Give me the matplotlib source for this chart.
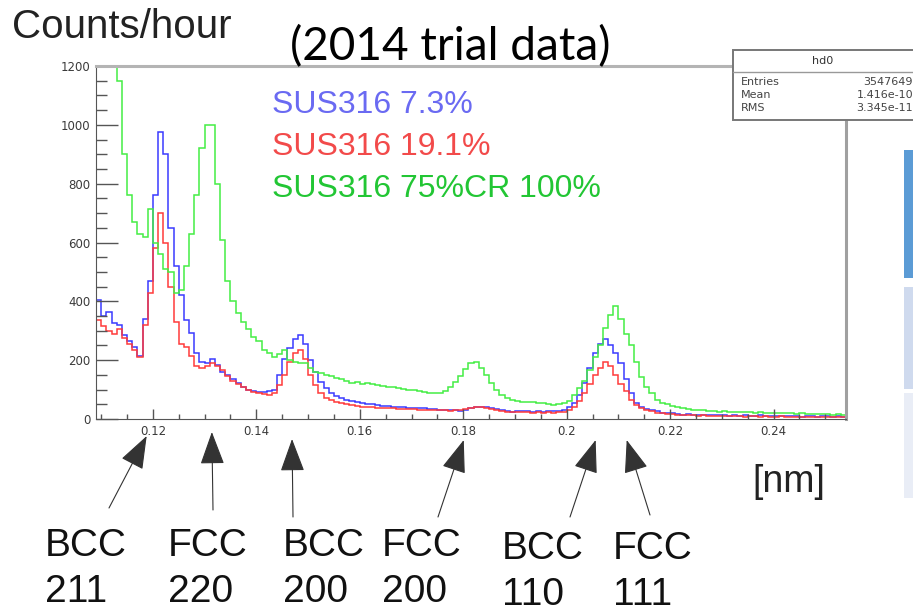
import matplotlib.pyplot as plt
import numpy as np
from matplotlib.patches import Rectangle
from matplotlib.ticker import MultipleLocator, FuncFormatter

W, H = 913, 614

# histogram binning in d-spacing [nm]
bin_lo = 0.109
bin_w = 0.001
n_bins = 145

sus_7 = [405, 350, 365, 325, 318, 285, 265, 245, 215, 340,
         470, 760, 975, 900, 650, 520, 420, 337, 292, 225,
         195, 192, 205, 185, 160, 150, 135, 122, 110, 100,
         96, 92, 92, 95, 100, 150, 205, 240, 272, 285,
         255, 200, 160, 125, 105, 88, 78, 70, 65, 60,
         57, 54, 52, 50, 48, 45, 43, 42, 40, 42,
         38, 37, 36, 37, 35, 33, 31, 30, 32, 30,
         28, 32, 36, 40, 42, 40, 38, 35, 30, 28,
         25, 27, 26, 28, 25, 27, 24, 26, 28, 27,
         30, 40, 55, 80, 122, 175, 225, 255, 272, 250,
         225, 190, 135, 90, 55, 42, 35, 31, 26, 22,
         20, 20, 18, 15, 16, 14, 13, 15, 12, 14,
         12, 13, 11, 12, 10, 12, 11, 10, 12, 10,
         11, 9, 10, 11, 9, 10, 8, 10, 9, 8,
         10, 9, 8, 9, 8]

sus_19 = [335, 315, 300, 290, 305, 275, 255, 235, 210, 320,
          430, 580, 700, 600, 450, 330, 255, 245, 215, 180,
          175, 180, 192, 180, 165, 145, 130, 120, 108, 100,
          92, 88, 85, 82, 90, 115, 150, 195, 225, 235,
          205, 150, 115, 88, 72, 63, 58, 54, 50, 47,
          44, 42, 41, 40, 39, 38, 36, 36, 35, 34,
          33, 34, 32, 31, 30, 30, 29, 30, 28, 29,
          30, 33, 38, 40, 41, 38, 35, 30, 27, 25,
          24, 25, 23, 24, 22, 23, 22, 23, 22, 24,
          25, 30, 42, 60, 88, 120, 150, 175, 195, 180,
          150, 120, 95, 65, 48, 38, 32, 27, 22, 20,
          18, 16, 14, 15, 12, 13, 11, 12, 10, 11,
          9, 10, 11, 9, 10, 8, 9, 10, 8, 9,
          7, 8, 9, 7, 8, 7, 8, 6, 7, 8,
          6, 7, 6, 7, 6]

sus_cr = [1200, 1200, 1200, 1200, 1150, 900, 760, 670, 630, 620,
          715, 600, 560, 510, 500, 430, 440, 520, 630, 760,
          920, 1000, 1000, 800, 610, 470, 400, 360, 330, 305,
          280, 265, 235, 225, 212, 220, 235, 200, 195, 190,
          190, 175, 160, 155, 150, 145, 140, 135, 130, 122,
          125, 120, 122, 118, 115, 112, 110, 108, 105, 103,
          100, 98, 95, 92, 90, 88, 88, 95, 110, 125,
          145, 170, 190, 195, 175, 150, 122, 100, 80, 72,
          65, 60, 58, 57, 58, 56, 55, 52, 48, 50,
          55, 62, 80, 105, 130, 165, 210, 250, 310, 355,
          385, 340, 290, 250, 195, 144, 110, 88, 65, 55,
          50, 45, 41, 38, 34, 32, 30, 29, 26, 27,
          25, 26, 24, 25, 23, 24, 25, 22, 23, 21,
          22, 20, 21, 19, 20, 18, 19, 17, 18, 17,
          16, 17, 15, 16, 15]

series_names = ["SUS316 7.3%", "SUS316 19.1%", "SUS316 75%CR 100%"]
line_colors = ["#3a3aff", "#ff3a3a", "#44ee44"]
text_colors = ["#6a6af2", "#f24a4a", "#22c634"]

# reflections marked under the axis
peak_d = [0.1188, 0.1314, 0.1469, 0.1801, 0.2056, 0.2116]
peak_phase = ["BCC", "FCC", "BCC", "FCC", "BCC", "FCC"]
peak_hkl = ["211", "220", "200", "200", "110", "111"]

stats_rows = [("Entries", "3547649"), ("Mean", "1.416e-10"), ("RMS", "3.345e-11")]

edges = np.linspace(bin_lo, bin_lo + n_bins * bin_w, n_bins + 1)

fig = plt.figure(figsize=(W / 100, H / 100), dpi=100)
fig.patch.set_facecolor("white")


def fx(px):
    return px / W


def fy(py):
    return 1 - py / H


ax = fig.add_axes([fx(96), fy(419), fx(846) - fx(96), fy(66) - fy(419)])
for vals, c in zip([sus_7, sus_19, sus_cr], line_colors):
    ax.stairs(vals, edges, baseline=None, color=c, lw=1.1, clip_on=False)

ax.set_xlim(edges[0], edges[-1])
ax.set_ylim(0, 1200)
ax.xaxis.set_major_locator(MultipleLocator(0.02))
ax.xaxis.set_minor_locator(MultipleLocator(0.005))
ax.yaxis.set_major_locator(MultipleLocator(200))
ax.yaxis.set_minor_locator(MultipleLocator(50))
ax.xaxis.set_major_formatter(FuncFormatter(lambda v, p: "%g" % round(v, 3)))
ax.yaxis.set_major_formatter(FuncFormatter(lambda v, p: "%d" % v))
ax.tick_params(axis="both", which="both", direction="in", color="#555555",
               labelcolor="#3a3a3a", labelsize=8.5, width=1)
ax.tick_params(axis="y", which="major", length=16, pad=4)
ax.tick_params(axis="y", which="minor", length=8)
ax.tick_params(axis="x", which="major", length=7, pad=4)
ax.tick_params(axis="x", which="minor", length=3.5)
ax.spines["left"].set_color("#555555")
ax.spines["bottom"].set_color("#555555")
ax.spines["top"].set_color("#b4b4b4")
ax.spines["right"].set_color("#a0a0a0")
ax.spines["top"].set_linewidth(2.2)
ax.spines["right"].set_linewidth(2.2)

# statistics box (covers the frame corner)
fig.patches.append(Rectangle((733, H - 120), 200, 70, transform=None,
                             facecolor="white", edgecolor="#777777", lw=1.4, zorder=5))
fig.lines.append(plt.Line2D([733, 913], [H - 72, H - 72], transform=None,
                            color="#999999", lw=1, zorder=6))
fig.text(fx(823), fy(61), "hd0", ha="center", va="center", fontsize=8, color="#333333", zorder=7)
for k, (name, val) in enumerate(stats_rows):
    yy = fy(82 + 13 * k)
    fig.text(fx(741), yy, name, ha="left", va="center", fontsize=8, color="#444444", zorder=7)
    fig.text(fx(913), yy, val, ha="right", va="center", fontsize=8, color="#444444", zorder=7)

# slide decoration at the right border
for (top, bot, col) in [(150, 278, "#5b9bd5"), (287, 389, "#cfdaee"), (393, 498, "#e9edf6")]:
    fig.patches.append(Rectangle((904, H - bot), 12, bot - top, transform=None,
                                 facecolor=col, edgecolor="none", zorder=1))

fig.text(fx(12), fy(38), "Counts/hour", fontsize=29, family="Liberation Sans",
         color="#222222", ha="left", va="baseline")
fig.text(fx(450), fy(60), "(2014 trial data)", fontsize=33, family="Lato",
         color="black", ha="center", va="baseline")

for k, (name, c) in enumerate(zip(series_names, text_colors)):
    fig.text(fx(272), fy(113 + 42 * k), name, fontsize=23, family="Liberation Sans",
             color=c, ha="left", va="baseline")

fig.text(fx(752), fy(492), "[nm]", fontsize=27, family="Liberation Sans",
         color="#222222", ha="left", va="baseline")

label_left = [45, 168, 283, 382, 502, 613]
label_base = [556, 556, 556, 556, 559, 559]
tip_px = [436, 432, 439, 440, 440, 440]
tail_px = [(109, 508), (213, 510), (293, 517), (438, 517), (570, 517), (650, 515)]

xform = ax.get_xaxis_transform()
for d, ph, hkl, lx, by, ty, (tx, tyy) in zip(peak_d, peak_phase, peak_hkl,
                                             label_left, label_base, tip_px, tail_px):
    fig.text(fx(lx), fy(by), ph, fontsize=28, family="Liberation Sans",
             color="#111111", ha="left", va="baseline")
    fig.text(fx(lx), fy(by + 46), hkl, fontsize=28, family="Liberation Sans",
             color="#111111", ha="left", va="baseline")
    tip_frac = -(ty - 419) / (419 - 66)
    ax.annotate("", xy=(d, tip_frac), xycoords=xform,
                xytext=(tx, H - tyy), textcoords="figure pixels",
                annotation_clip=False,
                arrowprops=dict(arrowstyle="-|>,head_length=1.9,head_width=0.7",
                                mutation_scale=11, color="#333333", lw=0.8,
                                shrinkA=0, shrinkB=0))

fig.savefig("out.png", dpi=100)
